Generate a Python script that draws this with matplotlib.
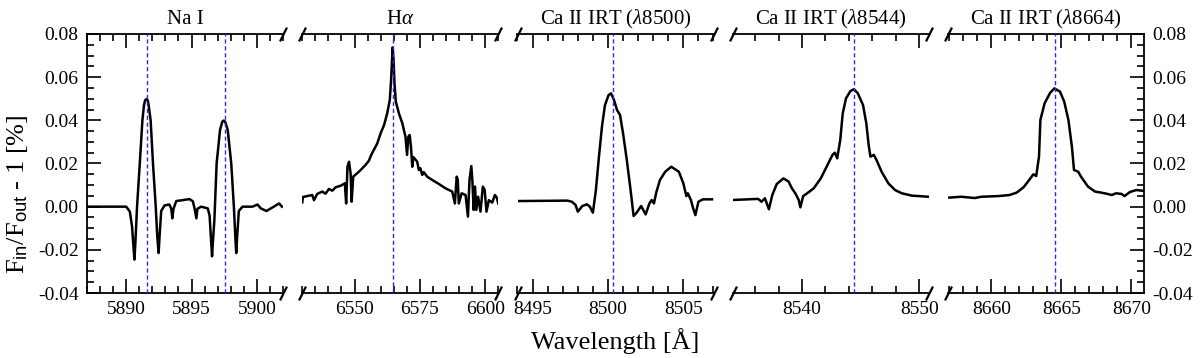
import matplotlib
matplotlib.use("Agg")
from matplotlib import pyplot as plt
from matplotlib.ticker import MultipleLocator, FormatStrFormatter

plt.rcParams['font.family'] = ['Liberation Serif', 'DejaVu Serif']
plt.rcParams['mathtext.fontset'] = 'custom'
plt.rcParams['mathtext.rm'] = 'Liberation Serif'
plt.rcParams['mathtext.it'] = 'Liberation Serif:italic'
plt.rcParams['mathtext.sf'] = 'Liberation Sans'
plt.rcParams['mathtext.fallback'] = 'stix'

# Na I doublet
na_wave = [5887.0, 5888.5, 5890.0, 5890.28, 5890.45, 5890.55, 5890.63, 5890.70, 5890.83, 5891.04,
           5891.24, 5891.36, 5891.45, 5891.55, 5891.65, 5891.72, 5891.87, 5892.05, 5892.26, 5892.38,
           5892.48, 5892.56, 5892.68, 5892.94, 5893.3, 5893.45, 5893.53, 5893.62, 5893.83, 5894.3,
           5894.84, 5895.1, 5895.22, 5895.37, 5895.45, 5895.73, 5896.24, 5896.38, 5896.5, 5896.57,
           5896.64, 5896.75, 5896.92, 5897.18, 5897.35, 5897.46, 5897.58, 5897.77, 5898.04, 5898.24,
           5898.35, 5898.42, 5898.5, 5898.62, 5898.9, 5899.67, 5900.05, 5900.3, 5900.73, 5901.3,
           5901.7, 5901.92]
na_flux = [0.0, 0.0, 0.0, -0.0023, -0.0093, -0.018, -0.0245, -0.017, 0.0, 0.02,
           0.04, 0.047, 0.0493, 0.0499, 0.0492, 0.047, 0.04, 0.02, 0.0, -0.014,
           -0.0215, -0.013, -0.002, 0.0006, 0.001, -0.001, -0.0054, -0.001, 0.0026, 0.003,
           0.0035, 0.0025, -0.0005, -0.0054, -0.001, 0.0, -0.0008, -0.004, -0.016, -0.023,
           -0.016, -0.006, 0.02, 0.0355, 0.0393, 0.0399, 0.0393, 0.0355, 0.02, 0.0,
           -0.014, -0.0215, -0.013, -0.002, 0.0, 0.0, 0.001, -0.0008, -0.002, 0.0,
           0.0015, 0.0]

# H alpha
ha_wave = [6530.0, 6530.3, 6533.8, 6534.5, 6535.7, 6537.7, 6538.9, 6540.2, 6541.5, 6542.8,
           6544.7, 6546.3, 6546.8, 6547.3, 6547.9, 6548.5, 6548.9, 6549.5, 6551.7, 6554.2,
           6555.5, 6556.4, 6557.4, 6558.7, 6560.0, 6561.3, 6562.5, 6563.5, 6564.0, 6564.35,
           6564.6, 6564.95, 6565.3, 6565.8, 6567.0, 6568.3, 6569.5, 6570.1, 6570.6, 6571.1,
           6571.6, 6572.1, 6572.5, 6574.0, 6574.6, 6575.2, 6575.9, 6576.5, 6577.8, 6579.7,
           6582.3, 6584.8, 6587.4, 6588.4, 6589.1, 6589.5, 6589.9, 6591.0, 6592.5, 6593.4,
           6594.0, 6594.7, 6595.1, 6595.6, 6596.1, 6596.6, 6597.3, 6598.2, 6599.1, 6599.8,
           6600.5, 6601.4, 6602.7, 6603.7, 6604.4, 6605.0]
ha_flux = [0.002, 0.0045, 0.0054, 0.003, 0.0059, 0.007, 0.006, 0.0082, 0.0074, 0.009,
           0.0097, 0.0108, 0.0015, 0.0185, 0.0208, 0.0154, 0.0023, 0.0139, 0.0162, 0.0193,
           0.0213, 0.024, 0.0263, 0.0293, 0.034, 0.0378, 0.0432, 0.0494, 0.0587, 0.068,
           0.0738, 0.068, 0.057, 0.0487, 0.0432, 0.0386, 0.0324, 0.024, 0.0324, 0.0332,
           0.0278, 0.0185, 0.023, 0.0208, 0.017, 0.0178, 0.0147, 0.016, 0.0139, 0.0124,
           0.0105, 0.0085, 0.007, 0.0015, 0.0139, 0.0125, 0.0015, 0.0062, 0.0054, -0.0046,
           0.0124, 0.0188, 0.012, -0.0015, 0.0093, -0.0015, 0.0046, -0.0023, 0.0093, 0.0078,
           -0.0023, 0.003, 0.0019, 0.0054, 0.0043, 0.0015]

# Ca II 8500
ca1_wave = [8494.0, 8497.3, 8497.6, 8497.85, 8498.0, 8498.3, 8498.6, 8498.8, 8499.0, 8499.2,
            8499.4, 8499.6, 8499.8, 8500.04, 8500.2, 8500.4, 8500.6, 8500.8, 8501.0, 8501.25,
            8501.5, 8501.7, 8501.9, 8502.2, 8502.5, 8502.75, 8502.9, 8503.05, 8503.2, 8503.45,
            8503.8, 8504.2, 8504.7, 8505.0, 8505.2, 8505.3, 8505.5, 8505.65, 8505.8, 8506.0,
            8506.3, 8506.9]
ca1_flux = [0.0026, 0.0028, 0.0023, 0.0008, -0.0023, 0.0003, 0.0011, 0.0, -0.0028, 0.0077,
            0.023, 0.037, 0.047, 0.0517, 0.0525, 0.0494, 0.0448, 0.0425, 0.034, 0.0216,
            0.0077, -0.0043, -0.0028, 0.0003, -0.0036, 0.0015, 0.0031, 0.0015, 0.0065, 0.0124,
            0.0162, 0.0185, 0.0162, 0.0108, 0.0049, 0.0062, 0.0031, -0.0008, -0.0039, 0.0023,
            0.0034, 0.0034]

# Ca II 8544
ca2_wave = [8534.1, 8536.26, 8536.55, 8536.84, 8537.18, 8537.47, 8537.85, 8538.42, 8538.86, 8539.14,
            8539.43, 8539.72, 8539.86, 8540.1, 8540.44, 8541.0, 8541.6, 8542.17, 8542.6, 8542.8,
            8543.0, 8543.26, 8543.47, 8543.75, 8544.13, 8544.42, 8544.76, 8545.2, 8545.48, 8545.68,
            8545.83, 8546.12, 8546.35, 8546.78, 8547.36, 8547.93, 8548.5, 8549.37, 8550.24, 8550.96]
ca2_flux = [0.0031, 0.0036, 0.0023, 0.0039, -0.0012, 0.0054, 0.0105, 0.0131, 0.0116, 0.0085,
            0.0062, 0.0031, -0.0003, 0.0049, 0.0062, 0.0085, 0.0131, 0.0193, 0.024, 0.025,
            0.0224, 0.0309, 0.0432, 0.0502, 0.0536, 0.0544, 0.0525, 0.0471, 0.0386, 0.0286,
            0.0232, 0.024, 0.0216, 0.0162, 0.0108, 0.0077, 0.0062, 0.0051, 0.0048, 0.0045]

# Ca II 8664
ca3_wave = [8657.0, 8657.85, 8658.8, 8659.3, 8660.5, 8661.3, 8661.8, 8662.3, 8662.7, 8663.0,
            8663.2, 8663.4, 8663.5, 8663.8, 8664.2, 8664.5, 8664.9, 8665.2, 8665.5, 8665.75,
            8665.9, 8666.2, 8666.4, 8666.9, 8667.4, 8667.85, 8668.3, 8668.6, 8668.9, 8669.3,
            8669.5, 8669.9, 8670.35, 8670.9]
ca3_flux = [0.0042, 0.0046, 0.004, 0.0046, 0.0049, 0.0054, 0.0065, 0.009, 0.0124, 0.015,
            0.0142, 0.0232, 0.0402, 0.0479, 0.0528, 0.0548, 0.0533, 0.0487, 0.0402, 0.0278,
            0.017, 0.0162, 0.0139, 0.0093, 0.007, 0.0065, 0.0059, 0.0054, 0.0062, 0.0059,
            0.0049, 0.0068, 0.0077, 0.0073]

titles = ['Na I', r'H$\alpha$', r'Ca II IRT ($\lambda$8500)',
          r'Ca II IRT ($\lambda$8544)', r'Ca II IRT ($\lambda$8664)']
xlims = [(5887.0, 5902.0), (6530.0, 6605.0), (8494.0, 8507.0), (8534.1, 8550.8), (8656.9, 8670.9)]
majors = [5, 25, 5, 10, 5]
minors = [1, 5, 1, 2, 1]
centers = [[5891.58, 5897.56], [6564.6], [8500.36], [8544.44], [8664.52]]
waves = [na_wave, ha_wave, ca1_wave, ca2_wave, ca3_wave]
fluxes = [na_flux, ha_flux, ca1_flux, ca2_flux, ca3_flux]

fig = plt.figure(figsize=(12, 3.58), dpi=100)
W, H = 1200.0, 358.0
x0, pw, gap = 87.0, 196.0, 19.25
bottom, height = (H - 293) / H, 259 / H

for i in range(5):
    ax = fig.add_axes([(x0 + i * (pw + gap)) / W, bottom, pw / W, height])
    ax.plot(waves[i], fluxes[i], color='k', lw=1.8, zorder=2)
    for c in centers[i]:
        ax.axvline(c, color='#2a2aff', lw=1.0, ls=(0, (3, 2)), zorder=3)
    ax.set_xlim(*xlims[i])
    ax.set_ylim(-0.04, 0.08)
    ax.xaxis.set_major_locator(MultipleLocator(majors[i]))
    ax.xaxis.set_minor_locator(MultipleLocator(minors[i]))
    ax.yaxis.set_major_locator(MultipleLocator(0.02))
    ax.yaxis.set_minor_locator(MultipleLocator(0.005))
    ax.yaxis.set_major_formatter(FormatStrFormatter('%.2f'))
    ax.set_title(titles[i], fontsize=15, pad=7)
    for s in ax.spines.values():
        s.set_linewidth(1.3)
    ax.spines['left'].set_visible(i == 0)
    ax.spines['right'].set_visible(i == 4)
    ax.tick_params(which='both', direction='in', top=True, bottom=True,
                   left=(i == 0), right=(i == 4), labelleft=(i == 0),
                   labelright=(i == 4), labelsize=14, width=1.2, pad=6)
    ax.tick_params(which='major', length=10)
    ax.tick_params(which='minor', length=5)

    # break marks
    kw = dict(transform=ax.transAxes, marker=[(-0.5, -1), (0.5, 1)], markersize=10,
              linestyle='none', color='k', mec='k', mew=1.6, clip_on=False)
    if i > 0:
        ax.plot([0, 0], [0, 1], **kw)
    if i < 4:
        ax.plot([1, 1], [0, 1], **kw)

fig.text(615.5 / W, 0.012, u'Wavelength [\u00c5]', ha='center', va='bottom', fontsize=19)
fig.text(0.004, 163.5 / H, r'F$_{\mathsf{in}}$/F$_{\mathsf{out}}$ - 1 [%]',
         rotation=90, ha='left', va='center', fontsize=19)

plt.savefig('out.png', dpi=100)
